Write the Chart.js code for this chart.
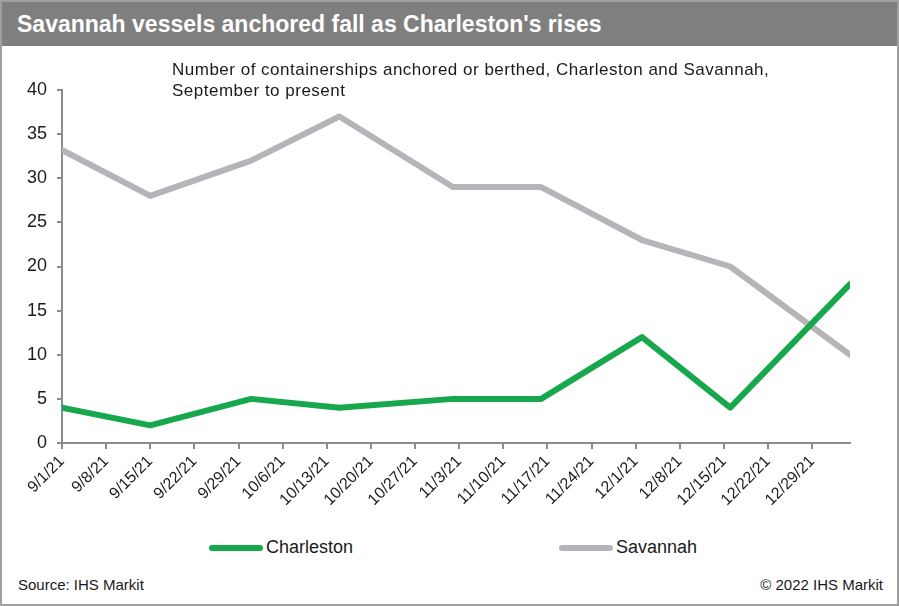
<!DOCTYPE html>
<html>
<head>
<meta charset="utf-8">
<script src="https://cdn.jsdelivr.net/npm/chart.js@4.4.1/dist/chart.umd.min.js"></script>
<style>
  html, body { margin: 0; padding: 0; background: #fff; }
  #frame {
    position: relative; width: 895px; height: 602px;
    border: 2px solid #a0a0a0; overflow: hidden;
    font-family: "Liberation Sans", Arial, sans-serif; color: #1a1a1a;
  }
  #title {
    position: absolute; left: 0; top: 0; width: 895px; height: 44px;
    background: #7f7f7f; color: #fff; font-weight: bold; font-size: 23px;
    line-height: 44px; padding-left: 15px; box-sizing: border-box;
  }
  #chartBox { position: absolute; left: -2px; top: 44px; width: 899px; height: 480px; }
  #subtitle {
    position: absolute; left: 170px; top: 57px; font-size: 17px; line-height: 21px; letter-spacing: 0.5px;
  }
  #legend { position: absolute; left: 0; top: 532px; width: 895px; height: 26px; }
  .item { position: absolute; top: 0; font-size: 18px; line-height: 26px; }
  .item span.swatch { display: inline-block; width: 54px; height: 6px; border-radius: 3px; vertical-align: middle; margin-right: 3px; }
  .foot { position: absolute; top: 574px; font-size: 15px; }
</style>
</head>
<body>
<div id="frame">
  <div id="title">Savannah vessels anchored fall as Charleston's rises</div>
  <div id="chartBox"><canvas id="myChart" width="899" height="480"></canvas></div>
  <div id="subtitle">Number of containerships anchored or berthed, Charleston and Savannah,<br>September to present</div>
  <div id="legend"></div>
  <div class="foot" style="left:16px;">Source: IHS Markit</div>
  <div class="foot" style="right:14px;">© 2022 IHS Markit</div>
</div>
<script>
// fechas de observación y buques por puerto
var fechas = ['2021-09-01', '2021-09-15', '2021-10-01', '2021-10-15', '2021-11-02',
              '2021-11-16', '2021-12-02', '2021-12-16', '2022-01-04'];
var charleston = [4, 2, 5, 4, 5, 5, 12, 4, 18];
var savannah = [33.2, 28, 32, 37, 29, 29, 23, 20, 10];
// etiquetas semanales del eje x
var xTickLabels = ['9/1/21', '9/8/21', '9/15/21', '9/22/21', '9/29/21', '10/6/21', '10/13/21',
                   '10/20/21', '10/27/21', '11/3/21', '11/10/21', '11/17/21', '11/24/21',
                   '12/1/21', '12/8/21', '12/15/21', '12/22/21', '12/29/21'];
var yTicks = [0, 5, 10, 15, 20, 25, 30, 35, 40];

var inicio = Date.UTC(2021, 8, 1);
function dias(fecha) {
    var p = fecha.split('-');
    return (Date.UTC(+p[0], +p[1] - 1, +p[2]) - inicio) / 86400000;
}
function puntos(valores) {
    return valores.map(function (v, i) { return { x: dias(fechas[i]), y: v }; });
}

var ejeColor = '#8c8c8c';
var ctx = document.getElementById('myChart').getContext('2d');
var myChart = new Chart(ctx, {
    type: 'line',
    data: {
        datasets: [{
            label: 'Charleston',
            data: puntos(charleston),
            borderColor: '#17a74c',
            backgroundColor: '#17a74c',
            borderWidth: 6,
            pointRadius: 0,
            borderJoinStyle: 'round',
            borderCapStyle: 'round'
        }, {
            label: 'Savannah',
            data: puntos(savannah),
            borderColor: '#b5b5b9',
            backgroundColor: '#b5b5b9',
            borderWidth: 6,
            pointRadius: 0,
            borderJoinStyle: 'round',
            borderCapStyle: 'round'
        }]
    },
    options: {
        responsive: false,
        animation: false,
        layout: { padding: { top: 44, right: 49, bottom: 0, left: 0 } },
        plugins: { legend: { display: false }, tooltip: { enabled: false } },
        scales: {
            x: {
                type: 'linear',
                min: 0,
                max: dias('2022-01-04'),
                afterBuildTicks: function (scale) {
                    scale.ticks = xTickLabels.map(function (_, i) { return { value: i * 7 }; });
                },
                afterFit: function (scale) { scale.height = 83; },
                grid: { drawOnChartArea: false, drawTicks: true, tickLength: 6, color: ejeColor, lineWidth: 2 },
                border: { color: ejeColor, width: 2 },
                ticks: {
                    autoSkip: false,
                    minRotation: 45,
                    maxRotation: 45,
                    padding: 3,
                    color: '#1a1a1a',
                    font: { family: '"Liberation Sans", Arial, sans-serif', size: 16 },
                    callback: function (v, i) { return xTickLabels[i]; }
                }
            },
            y: {
                min: 0,
                max: 40,
                afterBuildTicks: function (scale) {
                    scale.ticks = yTicks.map(function (v) { return { value: v }; });
                },
                afterFit: function (scale) { scale.width = 62; },
                grid: { drawOnChartArea: false, drawTicks: true, tickLength: 5, color: ejeColor, lineWidth: 2 },
                border: { color: ejeColor, width: 2 },
                ticks: {
                    padding: 10,
                    color: '#1a1a1a',
                    font: { family: '"Liberation Sans", Arial, sans-serif', size: 18 }
                }
            }
        }
    }
});

// leyenda en HTML con los colores de cada serie
var posLeyenda = [207, 557];
var leyenda = document.getElementById('legend');
myChart.data.datasets.forEach(function (ds, i) {
    var item = document.createElement('div');
    item.className = 'item';
    item.style.left = posLeyenda[i] + 'px';
    item.innerHTML = '<span class="swatch" style="background:' + ds.borderColor + '"></span>' + ds.label;
    leyenda.appendChild(item);
});
</script>
</body>
</html>
